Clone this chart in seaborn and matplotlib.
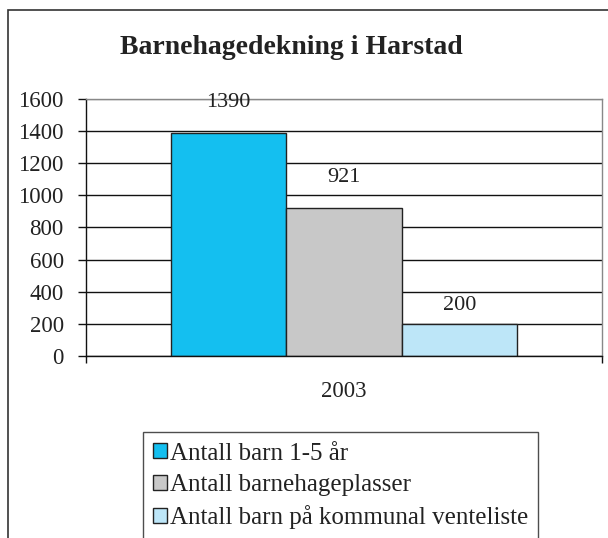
import matplotlib
matplotlib.use('Agg')
import matplotlib.pyplot as plt
from matplotlib.patches import Rectangle
import pandas as pd
import seaborn as sns

years = ['2003']
series = ['Antall barn 1-5 år', 'Antall barnehageplasser', 'Antall barn på kommunal venteliste']
values = [1390, 921, 200]
colors = ['#14BFF0', '#C8C8C8', '#BDE6F8']

df = pd.DataFrame({'year': years * len(series), 'series': series, 'value': values})

sns.set_theme(style='white')
plt.rcParams['font.family'] = ['Liberation Serif', 'DejaVu Serif']

fig = plt.figure(figsize=(6.08, 5.38), dpi=100)
ax = fig.add_axes([0.1414, 0.3383, 0.8487, 0.4777])

sns.barplot(data=df, x='year', y='value', hue='series', palette=colors, saturation=1,
            width=0.67, edgecolor='#222222', linewidth=1, ax=ax, legend=True)

ax.set_ylim(0, 1600)
ax.set_xlim(-0.5, 0.5)
ax.set_yticks(range(0, 1601, 200))
ax.yaxis.grid(True, color='#111111', linewidth=1)
ax.set_axisbelow(True)
ax.set_xlabel('')
ax.set_ylabel('')

for side in ['top', 'right']:
    ax.spines[side].set_color('#888888')
for side in ['left', 'bottom']:
    ax.spines[side].set_color('#111111')
for s in ax.spines.values():
    s.set_linewidth(1)
ax.get_ygridlines()[-1].set_color('#888888')

ax.tick_params(axis='y', left=True, length=6, width=1, color='#111111', pad=10,
               labelsize=16.5, labelcolor='#222222')
ax.tick_params(axis='x', bottom=False, pad=12, labelsize=16.5, labelcolor='#222222')
ax.set_xticks([-0.5, 0.5], minor=True)
ax.tick_params(axis='x', which='minor', bottom=True, length=5, width=1, color='#111111')

pads = [15, 15, 6.5]
for cont, p in zip(ax.containers, pads):
    ax.bar_label(cont, padding=p, fontsize=16, color='#222222')

handles, labels = ax.get_legend_handles_labels()
ax.get_legend().remove()
leg = fig.legend(handles, labels, loc='upper left', bbox_to_anchor=(0.235, 0.197),
                 frameon=True, fancybox=False, edgecolor='#222222', fontsize=18,
                 handlelength=0.55, handleheight=0.55, handletextpad=0.1,
                 labelspacing=0.38, borderpad=0.42, borderaxespad=0)
leg.get_frame().set_linewidth(1)
for t in leg.get_texts():
    t.set_color('#222222')

fig.text(0.479, 0.911, 'Barnehagedekning i Harstad', ha='center', va='center',
         fontsize=20, fontweight='bold', color='#222222')

fig.patches.append(Rectangle((0.013, -0.05), 1.0, 1.031, transform=fig.transFigure,
                             fill=False, edgecolor='#333333', linewidth=1.2))

fig.savefig('out.png', dpi=100)
